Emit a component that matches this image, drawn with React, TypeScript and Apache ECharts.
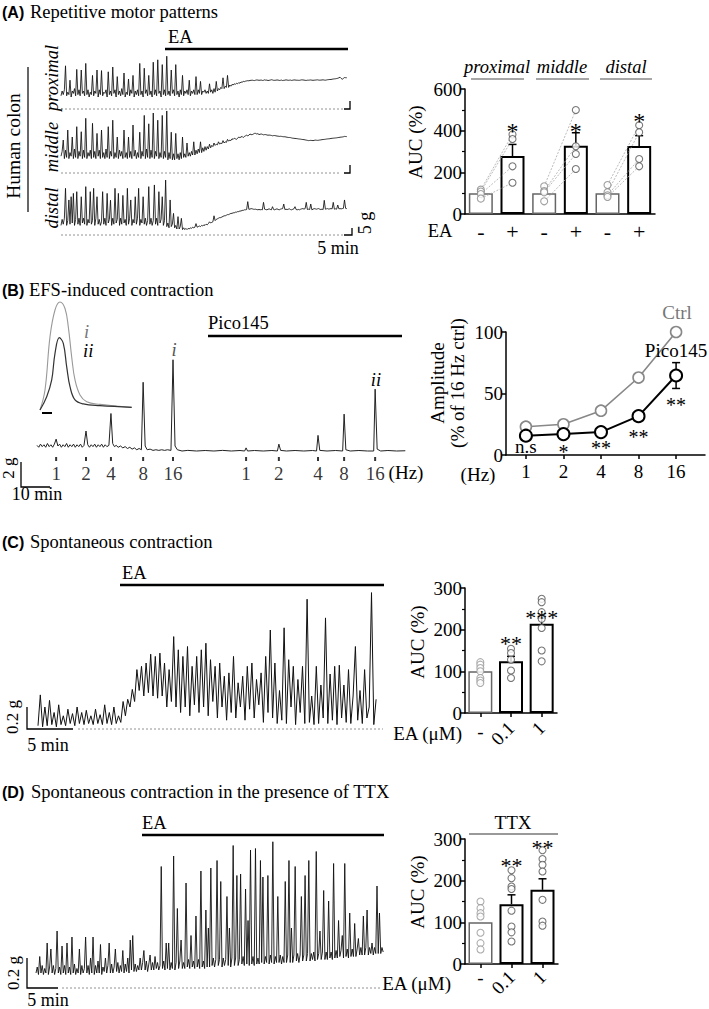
import React, { useEffect, useRef } from "react";
import * as echarts from "echarts";

const SERIF = "Liberation Serif";
const SANS = "Liberation Sans";

// ---------------- Panel A: force traces (g above baseline), one sample every 0.375 min
const A_DT_MIN = 0.375;
const proximalTrace = [
  11, 15, 12, 16, 36, 11, 14, 12, 24, 10, 15, 13, 17, 11, 33, 12, 16, 11, 32.5, 13,
  15, 11, 38, 12, 16, 10, 14, 12, 28, 11, 15, 13, 32.5, 10, 16, 12, 32, 11, 14, 13,
  16, 10, 31, 12, 15, 11, 35, 13, 16, 10, 27, 12, 15, 11, 17, 12, 30, 10, 14, 12,
  25, 11, 16, 13, 28, 10, 15, 12, 16, 11, 38, 12, 15, 10, 34, 13, 16, 11, 28, 12,
  15, 10, 39, 12, 16, 11, 41, 13, 15, 10, 37, 12, 16, 11, 44, 12, 15, 11, 32.5, 13,
  16, 11, 37, 12, 15, 10, 16, 12, 28, 11, 15, 13, 16, 12, 24, 11, 15, 13, 16, 12,
  27, 12, 16, 13, 23, 12, 15, 14, 16, 13, 15, 13, 21, 14, 16, 13, 17, 14, 23, 15,
  17, 16, 18, 17, 26, 17, 19, 18, 28, 18, 20, 19, 20.5, 20, 21, 20.5, 21.5, 21, 22, 21.5,
  22.5, 22.3, 23, 22.8, 23.2, 23.4, 23.6, 23.5, 23.8, 23.9, 24, 23.8, 23.7, 24, 24.2, 24.1, 23.9, 24, 24.1, 23.8,
  23.9, 24.3, 24, 24.1, 23.7, 23.9, 24.1, 24.4, 24.2, 23.9, 23.9, 24, 24.2, 24.1, 23.8, 23.9, 24.1, 23.7, 23.9, 24,
  24.3, 24.1, 23.9, 24, 24.1, 23.8, 24, 24.2, 24.2, 24, 24, 23.9, 23.9, 24.1, 24.3, 24.2, 24.1, 23.9, 23.8, 24,
  24, 24.1, 24.2, 24, 23.9, 24, 24.1, 24.2, 24.3, 24.1, 24, 24.1, 24.2, 24.3, 24.1, 24, 24.2, 24.4, 24.5, 24.6,
  24.6, 24.8, 25, 25.1, 25.2, 25.4, 25.6, 26, 26.5, 25.5, 24.8, 25.5, 26.2, 26.1, 26,
];
const middleTrace = [
  14, 18, 27.5, 12, 19, 13, 35.8, 12, 17, 14, 30, 12, 20, 13, 38.6, 12, 18, 14, 34.4, 12,
  19, 13, 45.6, 12, 17, 14, 19, 12, 41.4, 13, 18, 12, 33, 14, 19, 12, 35.8, 13, 17, 12,
  20, 13, 38.6, 12, 18, 14, 44, 12, 17, 13, 30, 12, 19, 14, 18, 12, 35.8, 13, 17, 12,
  30, 13, 18, 12, 40, 14, 19, 12, 17, 13, 34, 12, 18, 14, 48, 12, 20, 13, 41, 12,
  19, 13, 50, 12, 18, 14, 44, 12, 17, 13, 48, 12, 18, 13, 51.7, 11, 17, 12, 34, 11,
  16, 11, 33, 12, 16, 11, 17, 12, 30, 13, 16, 13, 25, 14, 17, 14, 18, 15, 26, 15,
  19, 16, 20, 17, 26, 17, 21, 18, 22, 19, 22, 20, 24, 21, 23, 22, 25, 23, 24, 23.5,
  26, 24, 25, 24.5, 27, 25, 26, 25.5, 28, 26.5, 27.5, 27, 28.5, 28, 29, 28.5, 28, 29, 30, 29.5,
  30, 30.5, 29.5, 30.5, 31, 31.5, 31, 31.5, 32.5, 32, 32, 32.5, 33, 33, 32.5, 32.8, 32, 32.3, 32.5, 32.2,
  31.8, 32, 32, 31.7, 31.5, 31.6, 31.5, 31.3, 31, 31.2, 31.2, 31, 30.8, 30.7, 30.5, 30.6, 30.5, 30.3, 30.2, 30.2,
  30, 29.8, 29.6, 29.6, 29.5, 29.2, 29, 28.9, 28.8, 28.7, 28.6, 28.4, 28.3, 28.2, 28, 27.9, 27.8, 27.6, 27.4, 27.2,
  27, 27.1, 27.2, 27.1, 27, 27.2, 27.4, 27.3, 27.2, 27.3, 27.5, 27.6, 27.8, 27.9, 28, 28.1, 28.3, 28.4, 28.5, 28.6,
  28.8, 28.9, 29, 29.1, 29.2, 29.3, 29.5, 29.6, 29.8, 29.9, 30, 30.2, 30.5, 30.4, 30.3,
];
const distalTrace = [
  8, 13, 9, 14, 38.9, 8, 12, 29.2, 9, 31.9, 10, 34.7, 8, 13, 36.1, 9, 14, 8, 31.9, 10,
  14, 9, 40.3, 8, 13, 10, 36.1, 9, 12, 38.9, 8, 14, 31.9, 9, 13, 8, 11, 36.1, 9, 14,
  8, 34.7, 10, 13, 29, 8, 14, 9, 38.9, 10, 13, 34.7, 8, 14, 9, 33, 10, 13, 8, 38.9,
  9, 14, 29.2, 8, 13, 10, 31.9, 9, 14, 38.9, 8, 13, 10, 31.9, 9, 14, 8, 12, 40.3, 9,
  14, 8, 12, 41.7, 9, 14, 8, 36.1, 10, 13, 31.9, 8, 12, 45.8, 7, 10, 6, 29.2, 7, 9,
  18, 6, 8, 5, 15.3, 5, 7, 13.9, 4.5, 6, 4.5, 5.5, 4.5, 5.5, 5, 6, 5.5, 6.5, 6, 6.5,
  9.5, 6.5, 7, 7.5, 7, 8, 7.5, 8.5, 8, 9, 8.5, 9.5, 11, 10, 10.5, 11, 16, 12, 13, 13.5,
  14, 14.5, 14.5, 15, 15.5, 16, 16, 16.5, 17, 17, 17.5, 18, 18, 18.5, 18.5, 19, 19, 19.5, 19.5, 20,
  20, 20.5, 20.5, 21, 21, 21.2, 27.8, 21.4, 21.6, 22, 21.8, 21.5, 21.4, 21.5, 21.2, 21, 21.3, 21, 21.2, 21,
  27.2, 21.5, 21.2, 21, 21.4, 21.8, 21.3, 21, 23.6, 21.2, 21, 21.5, 21.8, 21.3, 21, 21.5, 21.8, 22, 25.8, 21.2,
  21.5, 21.2, 21.5, 21.8, 21.2, 21, 21.4, 21.8, 23.6, 21.2, 21, 21.3, 21, 21.5, 21.8, 22, 21.6, 22, 27.2, 21.2,
  21.5, 21.2, 25.8, 21, 21.5, 22, 21.8, 21.5, 21.8, 22, 21.5, 21.2, 21.6, 21.2, 28.9, 21.5, 21.8, 22, 21.6, 21.8,
  22, 21.8, 27.2, 21.5, 21.8, 21.5, 25, 21.8, 22, 21.8, 22, 22.2, 29.2, 22.2, 22,
];

// ---------------- Panel A: AUC (%)
const aCategories = ["prox-", "prox+", "mid-", "mid+", "dist-", "dist+"];
const aTickLabels = ["-", "+", "-", "+", "-", "+"];
const aSegmentLabels = ["proximal", "middle", "distal"];
const aMeans = [100, 278, 100, 328, 100, 326];
const aErrors = [0, 56, 0, 62, 0, 50];
const proxMinus = [117, 108, 96, 74];
const proxPlus = [382, 360, 229, 150];
const midMinus = [133, 110, 104, 61];
const midPlus = [499, 325, 288, 216];
const distMinus = [139, 104, 90, 82];
const distPlus = [426, 392, 264, 229];
const aSig = ["", "*", "", "*", "", "*"];
const aSigY = [0, 400, 0, 400, 0, 448];

// ---------------- Panel B: EFS trace [min, g]
const bTrace = [
  [0, 0.45], [0.6, 0.3], [1.2, 0.55], [1.8, 0.35], [2.4, 0.5], [3, 0.3], [3.6, 0.6], [4.2, 0.35], [4.8, 0.5], [5.4, 0.3],
  [6, 0.55], [6.6, 0.95], [7.2, 0.4], [7.8, 0.55], [8.4, 0.3], [9, 0.5], [9.6, 0.35], [10.2, 0.6], [10.8, 0.3], [11.4, 0.5],
  [12, 0.35], [12.6, 0.55], [13.2, 0.3], [13.8, 0.5], [14.4, 0.35], [15, 0.55], [15.6, 0.3], [16.2, 0.45], [16.9, 1.6], [17.5, 0.5],
  [18.1, 0.3], [18.7, 0.5], [19.3, 0.35], [19.9, 0.55], [20.5, 0.3], [21.1, 0.5], [21.7, 0.35], [22.3, 0.55], [22.9, 0.3], [23.5, 0.5],
  [24.1, 0.35], [24.8, 0.45], [25.5, 3.0], [26.1, 0.6], [26.7, 0.35], [27.3, 0.45], [28, 0.3], [28.8, 0.4], [29.6, 0.25], [30.4, 0.35],
  [31.2, 0.2], [32, 0.3], [32.8, 0.15], [33.6, 0.25], [34.4, 0.1], [35.2, 0.2], [36, 0.1], [36.6, 5.5], [37.3, 0.4], [38, 0.1],
  [39, 0.15], [40, 0.05], [41, 0.1], [42, 0.05], [43, 0.1], [44, 0.05], [45, 0.1], [46.2, 0.05], [46.9, 7.3], [47.6, 0.4],
  [48.4, 0.1], [50, 0], [52, 0.05], [55, 0], [58, 0.04], [61, 0], [64, 0.05], [67, 0], [70, 0.04], [71.6, 0],
  [72.1, 0.25], [72.6, 0], [75, 0.04], [78, 0], [81, 0.04], [82.9, 0], [83.4, 0.55], [84, 0.05], [86, 0], [89, 0.04],
  [92, 0], [95, 0.04], [96.4, 0], [96.9, 1.25], [97.5, 0.05], [100, 0], [103, 0.04], [105.4, 0], [105.9, 2.95], [106.5, 0.1],
  [108, 0], [111, 0.04], [114, 0], [116.1, 0], [116.6, 4.95], [117.3, 0.15], [118.5, 0], [121, 0.04], [124, 0], [127, 0.02],
];
const bStimTimes = [6.6, 16.9, 25.5, 36.6, 46.9, 72.1, 83.4, 96.9, 105.9, 116.6];
const bStimLabels = ["1", "2", "4", "8", "16", "1", "2", "4", "8", "16"];
// inset: single 16 Hz responses (% of response i)
const insetTimeI = [0, 5, 10, 15, 20, 25, 28.3, 31.7, 35, 40, 46.7, 60, 76.7, 91.7];
const insetRespI = [0, 18.5, 67.9, 92.6, 100, 94, 77, 49, 27.8, 13.9, 7.7, 5.2, 3.7, 2.5];
const insetTimeII = [0, 6.7, 11.7, 15, 19.3, 23.3, 26.7, 30, 35, 43.3, 60, 91.7];
const insetRespII = [0, 12.3, 27.8, 52.5, 67, 61.7, 40, 21.6, 9.3, 5.6, 4, 2.5];

// ---------------- Panel B: amplitude vs frequency
const hzLabels = ["1", "2", "4", "8", "16"];
const ctrlAmp = [23, 25, 36, 63, 100];
const picoAmp = [15.7, 17, 18.6, 31.6, 64.6];
const picoErr = [0, 0, 0, 0, 10.5];
const bSig = ["n.s", "*", "**", "**", "**"];
const bSigY = [7.3, 2.6, 5.7, 14.6, 40.7];

// ---------------- Panel C: spontaneous trace (g), one sample every 0.25 min
const C_DT_MIN = 0.25;
const cTrace = [
  0.03, 0.31, 0.02, 0.2, 0.03, 0.26, 0.04, 0.15, 0.02, 0.22, 0.04, 0.12, 0.03, 0.18, 0.05, 0.14, 0.03, 0.2, 0.05, 0.15,
  0.04, 0.17, 0.05, 0.12, 0.04, 0.18, 0.05, 0.13, 0.04, 0.22, 0.05, 0.15, 0.04, 0.2, 0.05, 0.12, 0.06, 0.25, 0.12, 0.27,
  0.2, 0.36, 0.25, 0.54, 0.35, 0.57, 0.3, 0.6, 0.33, 0.68, 0.3, 0.66, 0.28, 0.69, 0.3, 0.6, 0.2, 0.54, 0.25, 0.84,
  0.2, 0.72, 0.15, 0.66, 0.2, 0.75, 0.12, 0.57, 0.22, 0.66, 0.15, 0.72, 0.2, 0.78, 0.12, 0.63, 0.25, 0.57, 0.1, 0.6,
  0.2, 0.48, 0.08, 0.51, 0.15, 0.66, 0.1, 0.42, 0.2, 0.48, 0.08, 0.57, 0.18, 0.6, 0.1, 0.45, 0.22, 0.51, 0.06, 0.66,
  0.15, 0.9, 0.1, 0.6, 0.05, 0.35, 0.08, 0.92, 0.05, 0.63, 0.2, 0.57, 0.04, 0.45, 0.15, 0.57, 0.05, 1.18, 0.06, 0.3,
  0.04, 0.57, 0.05, 0.4, 0.1, 1.01, 0.05, 0.5, 0.08, 0.57, 0.04, 0.58, 0.1, 0.4, 0.06, 0.54, 0.05, 0.3, 0.75, 0.08,
  0.35, 0.05, 0.54, 0.1, 0.2, 1.24, 0.04, 0.27,
];
const concLabels = ["-", "0.1", "1"];
const concCategories = ["c0", "c01", "c1"];
const cMeans = [100, 124, 214];
const cErrors = [0, 12, 14];
const cPoints0 = [122, 116, 108, 100, 84, 78, 72];
const cPoints1 = [154, 144, 128, 102, 84];
const cPoints2 = [274, 266, 242, 226, 204, 150, 124];
const cSig = ["", "**", "***"];
const cSigY = [0, 166, 229];

// ---------------- Panel D: spontaneous trace with TTX (g), one sample every 0.2 min
const D_DT_MIN = 0.2;
const dTrace = [
  0.1, 0.14, 0.09, 0.21, 0.1, 0.15, 0.09, 0.13, 0.1, 0.3, 0.09, 0.14, 0.26, 0.1, 0.15, 0.09, 0.13, 0.38, 0.1, 0.14,
  0.09, 0.28, 0.1, 0.15, 0.09, 0.3, 0.1, 0.14, 0.09, 0.34, 0.1, 0.16, 0.09, 0.13, 0.1, 0.26, 0.09, 0.15, 0.1, 0.13,
  0.34, 0.1, 0.15, 0.09, 0.2, 0.1, 0.34, 0.09, 0.15, 0.1, 0.18, 0.1, 0.29, 0.09, 0.14, 0.11, 0.2, 0.1, 0.15, 0.3,
  0.1, 0.16, 0.1, 0.14, 0.26, 0.11, 0.17, 0.1, 0.15, 0.11, 0.25, 0.1, 0.16, 0.11, 0.2, 0.1, 0.32, 0.12, 0.35, 0.11,
  0.16, 0.11, 0.15, 0.12, 0.2, 0.12, 0.17, 0.25, 0.12, 0.18, 0.11, 0.16, 0.22, 0.12, 0.17, 0.12, 0.21, 0.13, 0.17, 0.12,
  0.15, 0.81, 0.13, 0.18, 0.12, 0.3, 0.13, 0.3, 0.12, 0.17, 0.13, 0.88, 0.12, 0.17, 0.53, 0.13, 0.18, 0.32, 0.13, 0.17,
  0.13, 0.7, 0.14, 0.19, 0.13, 0.35, 0.14, 0.18, 0.13, 0.48, 0.14, 0.19, 0.13, 0.78, 0.14, 0.18, 0.13, 0.52, 0.14, 0.4,
  0.14, 0.8, 0.15, 0.2, 0.14, 0.19, 0.85, 0.15, 0.19, 0.71, 0.14, 0.2, 0.15, 0.19, 0.61, 0.15, 0.4, 0.14, 0.2, 0.95,
  0.15, 0.2, 0.75, 0.15, 0.19, 0.76, 0.16, 0.21, 0.15, 0.66, 0.16, 0.45, 0.15, 0.92, 0.16, 0.21, 0.15, 0.93, 0.16, 0.2,
  0.16, 0.85, 0.17, 0.74, 0.16, 0.21, 0.17, 0.75, 0.16, 0.22, 0.17, 0.975, 0.16, 0.21, 0.17, 0.61, 0.17, 0.22, 0.16, 0.21,
  0.17, 0.71, 0.17, 0.22, 0.85, 0.17, 0.4, 0.17, 0.22, 0.81, 0.18, 0.23, 0.17, 0.22, 0.61, 0.18, 0.22, 0.75, 0.18, 0.23,
  0.85, 0.18, 0.23, 0.19, 0.24, 0.18, 0.91, 0.19, 0.23, 0.38, 0.19, 0.24, 0.65, 0.19, 0.24, 0.19, 0.58, 0.2, 0.24, 0.19,
  0.83, 0.2, 0.25, 0.2, 0.45, 0.21, 0.25, 0.35, 0.2, 0.83, 0.21, 0.26, 0.2, 0.5, 0.21, 0.26, 0.21, 0.43, 0.21, 0.26,
  0.33, 0.22, 0.27, 0.22, 0.48, 0.22, 0.27, 0.52, 0.22, 0.27, 0.23, 0.3, 0.22, 0.27, 0.23, 0.68, 0.23, 0.5, 0.23, 0.27,
  0.24,
];
const dMeans = [100, 143.6, 178];
const dErrors = [0, 22.4, 26.5];
const dPoints0 = [150, 134, 122, 114, 75, 50, 35];
const dPoints1 = [225, 206, 186, 180, 128, 90, 76, 54];
const dPoints2 = [273, 252, 238, 222, 154, 102, 92];
const dSig = ["", "**", "**"];
const dSigY = [0, 236, 279];

// ---------------- helpers
const traceLine = (values: number[], dt: number, gi: number, width = 0.9) => ({
  type: "line",
  xAxisIndex: gi,
  yAxisIndex: gi,
  data: values.map((v, i) => [i * dt, v]),
  symbol: "none",
  showSymbol: false,
  clip: false,
  silent: true,
  lineStyle: { color: "#111", width },
  z: 2,
});

const hiddenX = (gi: number, min: number, max: number) => ({ gridIndex: gi, type: "value", min, max, show: false });
const hiddenY = (gi: number, min: number, max: number) => ({ gridIndex: gi, type: "value", min, max, show: false });

const blackLine = { color: "#000", width: 1.5 };

const barY = (gi: number, max: number, interval: number, minor: boolean) => ({
  gridIndex: gi,
  type: "value",
  min: 0,
  max,
  interval,
  axisLine: { show: true, lineStyle: blackLine },
  axisTick: { show: true, length: 5, lineStyle: blackLine },
  minorTick: { show: minor, splitNumber: 2, length: 3, lineStyle: { color: "#000", width: 1.2 } },
  splitLine: { show: false },
  axisLabel: { color: "#000", fontSize: 19, fontFamily: SERIF, margin: 3 },
});

const errUp = (_p: any, api: any) => {
  const x = api.value(0);
  const m = api.value(1);
  const e = api.value(2);
  const a = api.coord([x, m]);
  const b = api.coord([x, m + e]);
  const style = { stroke: "#000", lineWidth: 1.5 };
  return {
    type: "group",
    children: [
      { type: "line", shape: { x1: a[0], y1: a[1], x2: b[0], y2: b[1] }, style },
      { type: "line", shape: { x1: b[0] - 4, y1: b[1], x2: b[0] + 4, y2: b[1] }, style },
    ],
  };
};

const errBoth = (_p: any, api: any) => {
  const x = api.value(0);
  const m = api.value(1);
  const e = api.value(2);
  const a = api.coord([x, m - e]);
  const b = api.coord([x, m + e]);
  const style = { stroke: "#000", lineWidth: 1.5 };
  return {
    type: "group",
    children: [
      { type: "line", shape: { x1: a[0], y1: a[1], x2: b[0], y2: b[1] }, style },
      { type: "line", shape: { x1: b[0] - 4, y1: b[1], x2: b[0] + 4, y2: b[1] }, style },
      { type: "line", shape: { x1: a[0] - 4, y1: a[1], x2: a[0] + 4, y2: a[1] }, style },
    ],
  };
};

const barSeries = (gi: number, means: number[], firstGray: (i: number) => boolean) => ({
  type: "bar",
  xAxisIndex: gi,
  yAxisIndex: gi,
  barWidth: 24,
  silent: true,
  data: means.map((v, i) => ({
    value: v,
    itemStyle: {
      color: "#fff",
      borderColor: firstGray(i) ? "#666" : "#000",
      borderWidth: firstGray(i) ? 1.5 : 2,
    },
  })),
  z: 2,
});

const errSeries = (gi: number, means: number[], errs: number[], render: any) => ({
  type: "custom",
  xAxisIndex: gi,
  yAxisIndex: gi,
  silent: true,
  renderItem: render,
  data: means.map((m, i) => [i, m, errs[i]]).filter((d) => d[2] > 0),
  encode: { x: 0, y: 1 },
  z: 3,
});

const pointSeries = (gi: number, cat: number, values: number[], color: string) => ({
  type: "scatter",
  xAxisIndex: gi,
  yAxisIndex: gi,
  silent: true,
  symbol: "circle",
  symbolSize: 7,
  data: values.map((v) => [cat, v]),
  itemStyle: { color: "#fff", borderColor: color, borderWidth: 1.1 },
  z: 5,
});

// significance marks drawn as text at data coordinates
const textMarks = (gi: number, labels: string[], ys: number[], size: number, xs?: number[]) => {
  const items = labels
    .map((s, i) => ({ s, x: xs ? xs[i] : i, y: ys[i] }))
    .filter((d) => d.s !== "");
  return {
    type: "custom",
    xAxisIndex: gi,
    yAxisIndex: gi,
    silent: true,
    z: 6,
    data: items.map((d) => [d.x, d.y]),
    encode: { x: 0, y: 1 },
    renderItem: (params: any, api: any) => {
      const p = api.coord([api.value(0), api.value(1)]);
      const s = items[params.dataIndex].s;
      return {
        type: "text",
        x: p[0],
        y: p[1],
        style: {
          text: s,
          fill: "#000",
          fontSize: s === "n.s" ? 19 : size,
          fontFamily: SERIF,
          textAlign: "center",
          textVerticalAlign: "middle",
          align: "center",
          verticalAlign: "middle",
        },
      };
    },
  };
};

const catX = (gi: number, cats: string[], labelFn: (i: number) => string, opts: any) => ({
  gridIndex: gi,
  type: "category",
  data: cats,
  position: "bottom",
  axisLine: { show: opts.line !== false, lineStyle: blackLine },
  axisTick: { show: !!opts.ticks, alignWithLabel: true, length: 4, lineStyle: blackLine },
  axisLabel: {
    interval: 0,
    rotate: opts.rotate || 0,
    margin: opts.margin,
    color: "#000",
    fontSize: opts.size || 19,
    fontFamily: SERIF,
    formatter: (_v: string, i: number) => labelFn(i),
  },
  splitLine: { show: false },
});

function buildGraphics() {
  const G: any[] = [];
  const txt = (text: string, x: number, y: number, o: any = {}) =>
    G.push({
      type: "text",
      x,
      y,
      rotation: o.rot || 0,
      z: 100,
      silent: true,
      style: {
        text,
        fill: o.color || "#000",
        fontSize: o.size || 18,
        fontFamily: o.family || SERIF,
        fontWeight: o.weight || "normal",
        fontStyle: o.italic ? "italic" : "normal",
        textAlign: o.align || "left",
        textVerticalAlign: "middle",
      },
    });
  const seg = (x1: number, y1: number, x2: number, y2: number, o: any = {}) =>
    G.push({
      type: "line",
      z: 100,
      silent: true,
      shape: { x1, y1, x2, y2 },
      style: { stroke: o.color || "#000", lineWidth: o.w || 1.5, lineDash: o.dash },
    });
  const poly = (pts: number[][], w = 1.3) =>
    G.push({ type: "polyline", z: 100, silent: true, shape: { points: pts }, style: { stroke: "#000", lineWidth: w, fill: null } });
  const R = Math.PI / 2;
  const dash = { color: "#777", w: 0.8, dash: [2, 2] };
  const T = 18.5;

  // titles
  txt("(A)", 2, 12, { family: SANS, weight: "bold", size: 16 });
  txt("Repetitive motor patterns", 30, 12, { size: T });
  txt("(B)", 2, 290, { family: SANS, weight: "bold", size: 16 });
  txt("EFS-induced contraction", 29, 290, { size: T });
  txt("(C)", 2, 542, { family: SANS, weight: "bold", size: 16 });
  txt("Spontaneous contraction", 30, 542, { size: T });
  txt("(D)", 2, 792, { family: SANS, weight: "bold", size: 16 });
  txt("Spontaneous contraction in the presence of TTX", 31, 792, { size: T });

  // Panel A traces
  txt("EA", 168, 37, { size: T });
  seg(165, 49, 348, 49, { w: 2.5 });
  txt("Human colon", 13, 146, { size: 19.5, rot: R, align: "center" });
  seg(28, 67, 28, 212, { w: 1.2 });
  txt(aSegmentLabels[0], 52, 78, { size: T, italic: true, rot: R, align: "center" });
  txt(aSegmentLabels[1], 52, 147, { size: T, italic: true, rot: R, align: "center" });
  txt(aSegmentLabels[2], 52, 208, { size: T, italic: true, rot: R, align: "center" });
  seg(61, 109, 343, 109, dash);
  seg(61, 173, 340, 173, dash);
  seg(61, 235, 343, 235, dash);
  poly([[344, 109], [350, 109], [350, 101]]);
  poly([[344, 173], [350, 173], [350, 165]]);
  poly([[344, 235], [352, 235], [352, 228]]);
  txt("5 g", 365, 223, { rot: R, align: "center" });
  txt("5 min", 338, 248, { align: "center" });

  // Panel A bars
  txt(aSegmentLabels[0], 497, 67, { size: T, italic: true, align: "center" });
  seg(471, 79, 524, 79, { color: "#888" });
  txt(aSegmentLabels[1], 562, 67, { size: T, italic: true, align: "center" });
  seg(536, 79, 589, 79, { color: "#888" });
  txt(aSegmentLabels[2], 626, 67, { size: T, italic: true, align: "center" });
  seg(600, 79, 652, 79, { color: "#888" });
  txt("AUC (%)", 415, 142, { size: 19, rot: R, align: "center" });
  txt("EA", 440, 231, { size: T, align: "center" });

  // Panel B trace
  txt("Pico145", 208, 323, { size: T });
  seg(208, 336, 402, 336, { w: 2.5 });
  seg(42, 413, 52, 413, { w: 2 });
  txt("i", 84, 332, { italic: true, color: "#777", size: T });
  txt("ii", 83, 351, { italic: true, size: T });
  txt("i", 174, 350, { italic: true, color: "#555", size: T, align: "center" });
  txt("ii", 376, 380, { italic: true, size: T, align: "center" });
  txt("(Hz)", 406, 472, { size: 19, align: "center" });
  poly([[21, 462], [21, 487], [50, 487]]);
  txt("2 g", 8, 468, { rot: R, align: "center", size: 17 });
  txt("10 min", 37, 494, { align: "center" });

  // Panel B line chart
  txt("Amplitude", 437, 383, { size: 19, rot: R, align: "center" });
  txt("(% of 16 Hz ctrl)", 457, 383, { size: 19, rot: R, align: "center" });
  txt("(Hz)", 478, 474, { size: 19, align: "center" });
  txt("Ctrl", 677, 312, { size: 19, color: "#777", align: "center" });
  txt("Pico145", 676, 350, { size: 19, align: "center" });

  // Panel C
  txt("EA", 122, 573, { size: T });
  seg(120, 585, 384, 585, { w: 2.5 });
  seg(78, 729, 383, 729, dash);
  poly([[27, 707], [27, 729], [73, 729]]);
  txt("0.2 g", 12, 717, { rot: R, align: "center", size: 17 });
  txt("5 min", 48, 745, { align: "center" });
  txt("AUC (%)", 417, 642, { size: 19, rot: R, align: "center" });
  txt("EA (μM)", 462, 733, { size: 19, align: "right" });

  // Panel D
  txt("EA", 142, 823, { size: T });
  seg(142, 835, 384, 835, { w: 2.5 });
  seg(62, 988, 380, 988, dash);
  poly([[27, 958], [27, 988], [58, 988]]);
  txt("0.2 g", 13, 973, { rot: R, align: "center", size: 17 });
  txt("5 min", 48, 1000, { align: "center" });
  txt("AUC (%)", 417, 892, { size: 19, rot: R, align: "center" });
  txt("TTX", 513, 822, { size: 19, align: "center" });
  seg(469, 834, 558, 834, { color: "#777", w: 1.5 });
  txt("EA (μM)", 451, 983, { size: 19, align: "right" });
  return G;
}

function buildOption() {
  const grid = [
    { left: 61, top: 49, width: 285.75, height: 60 }, // 0 A proximal
    { left: 61, top: 107, width: 285.75, height: 66 }, // 1 A middle
    { left: 61, top: 175, width: 285.75, height: 60 }, // 2 A distal
    { left: 465, top: 89, width: 190, height: 125 }, // 3 A bars
    { left: 37, top: 351, width: 368.3, height: 125 }, // 4 B trace
    { left: 40, top: 302, width: 92, height: 108 }, // 5 B inset
    { left: 506, top: 332, width: 199, height: 123 }, // 6 B line
    { left: 38, top: 586, width: 338.1, height: 143 }, // 7 C trace
    { left: 465, top: 588, width: 92, height: 125 }, // 8 C bars
    { left: 36, top: 838, width: 347.2, height: 150 }, // 9 D trace
    { left: 465, top: 839, width: 93, height: 125 }, // 10 D bars
  ];

  const aMax = (proximalTrace.length - 1) * A_DT_MIN;
  const hzPos = hzLabels.map((_, i) => i + 1);

  const xAxis: any[] = [
    hiddenX(0, 0, aMax),
    hiddenX(1, 0, aMax),
    hiddenX(2, 0, aMax),
    catX(3, aCategories, (i) => aTickLabels[i], { margin: 6, size: 22 }),
    hiddenX(4, 0, 127),
    hiddenX(5, 0, 92),
    {
      gridIndex: 6,
      type: "value",
      min: 0.47,
      max: 5.77,
      axisLine: { show: true, lineStyle: blackLine },
      axisTick: { show: true, customValues: hzPos, length: 4, lineStyle: blackLine },
      axisLabel: {
        customValues: hzPos,
        formatter: (v: number) => hzLabels[Math.round(v) - 1] || "",
        color: "#000",
        fontSize: 19,
        fontFamily: SERIF,
        margin: 7,
      },
      splitLine: { show: false },
    },
    hiddenX(7, 0, (cTrace.length - 1) * C_DT_MIN),
    catX(8, concCategories, (i) => (i === 0 ? concLabels[0] : ""), { ticks: true, margin: 9 }),
    hiddenX(9, 0, (dTrace.length - 1) * D_DT_MIN),
    catX(10, concCategories, (i) => (i === 0 ? concLabels[0] : ""), { ticks: true, margin: 4 }),
    catX(8, concCategories, (i) => (i === 0 ? "" : concLabels[i]), { line: false, rotate: 45, margin: 12 }),
    catX(10, concCategories, (i) => (i === 0 ? "" : concLabels[i]), { line: false, rotate: 45, margin: 10 }),
  ];

  const yAxis: any[] = [
    hiddenY(0, 0, 50),
    hiddenY(1, 0, 55),
    hiddenY(2, 0, 50),
    barY(3, 600, 200, true),
    hiddenY(4, -2, 8),
    hiddenY(5, 0, 100),
    barY(6, 100, 50, false),
    hiddenY(7, 0, 1.3),
    barY(8, 300, 100, true),
    hiddenY(9, 0, 1),
    barY(10, 300, 100, true),
  ];

  const series: any[] = [];

  // A traces
  series.push(traceLine(proximalTrace, A_DT_MIN, 0, 0.85));
  series.push(traceLine(middleTrace, A_DT_MIN, 1, 0.85));
  series.push(traceLine(distalTrace, A_DT_MIN, 2, 0.85));

  // A bars
  series.push(barSeries(3, aMeans, (i) => i % 2 === 0));
  series.push(errSeries(3, aMeans, aErrors, errUp));
  const pairs: [number[], number[], number][] = [
    [proxMinus, proxPlus, 0],
    [midMinus, midPlus, 2],
    [distMinus, distPlus, 4],
  ];
  pairs.forEach(([minus, plus, c]) => {
    minus.forEach((v, k) => {
      series.push({
        type: "line",
        xAxisIndex: 3,
        yAxisIndex: 3,
        silent: true,
        symbol: "none",
        data: [
          [c, v],
          [c + 1, plus[k]],
        ],
        lineStyle: { color: "#aaa", width: 0.8, type: [2, 1.5] },
        z: 4,
      });
    });
    series.push(pointSeries(3, c, minus, "#888"));
    series.push(pointSeries(3, c + 1, plus, "#555"));
  });
  series.push(textMarks(3, aSig, aSigY, 24));

  // B trace
  series.push({
    type: "line",
    xAxisIndex: 4,
    yAxisIndex: 4,
    data: bTrace,
    symbol: "none",
    clip: false,
    silent: true,
    lineStyle: { color: "#222", width: 1 },
  });
  series.push({
    type: "scatter",
    xAxisIndex: 4,
    yAxisIndex: 4,
    silent: true,
    symbol: "rect",
    symbolSize: [2, 4],
    itemStyle: { color: "#000" },
    data: bStimTimes.map((t, i) => ({ name: bStimLabels[i], value: [t, -0.64] })),
    label: { show: true, position: "bottom", distance: 3, formatter: "{b}", color: "#000", fontSize: 19, fontFamily: SERIF },
  });
  // B inset
  series.push({
    type: "line",
    xAxisIndex: 5,
    yAxisIndex: 5,
    data: insetTimeI.map((t, i) => [t, insetRespI[i]]),
    symbol: "none",
    smooth: 0.4,
    clip: false,
    silent: true,
    lineStyle: { color: "#999", width: 1.1 },
  });
  series.push({
    type: "line",
    xAxisIndex: 5,
    yAxisIndex: 5,
    data: insetTimeII.map((t, i) => [t, insetRespII[i]]),
    symbol: "none",
    smooth: 0.4,
    clip: false,
    silent: true,
    lineStyle: { color: "#333", width: 1.2 },
  });

  // B line chart
  series.push({
    type: "line",
    xAxisIndex: 6,
    yAxisIndex: 6,
    data: ctrlAmp.map((v, i) => [hzPos[i], v]),
    symbol: "circle",
    symbolSize: 11,
    silent: true,
    itemStyle: { color: "#fff", borderColor: "#888", borderWidth: 1.6 },
    lineStyle: { color: "#888", width: 1.6 },
    z: 3,
  });
  series.push({
    type: "custom",
    xAxisIndex: 6,
    yAxisIndex: 6,
    silent: true,
    renderItem: errBoth,
    data: picoAmp.map((m, i) => [hzPos[i], m, picoErr[i]]).filter((d) => d[2] > 0),
    encode: { x: 0, y: 1 },
    z: 3,
  });
  series.push({
    type: "line",
    xAxisIndex: 6,
    yAxisIndex: 6,
    data: picoAmp.map((v, i) => [hzPos[i], v]),
    symbol: "circle",
    symbolSize: 12,
    silent: true,
    itemStyle: { color: "#fff", borderColor: "#000", borderWidth: 2 },
    lineStyle: { color: "#000", width: 2 },
    z: 4,
  });
  series.push(textMarks(6, bSig, bSigY, 20, hzPos));

  // C
  series.push(traceLine(cTrace, C_DT_MIN, 7, 1));
  series.push(barSeries(8, cMeans, (i) => i === 0));
  series.push(errSeries(8, cMeans, cErrors, errUp));
  series.push(pointSeries(8, 0, cPoints0, "#999"));
  series.push(pointSeries(8, 1, cPoints1, "#555"));
  series.push(pointSeries(8, 2, cPoints2, "#555"));
  series.push(textMarks(8, cSig, cSigY, 22));

  // D
  series.push(traceLine(dTrace, D_DT_MIN, 9, 0.9));
  series.push(barSeries(10, dMeans, (i) => i === 0));
  series.push(errSeries(10, dMeans, dErrors, errUp));
  series.push(pointSeries(10, 0, dPoints0, "#999"));
  series.push(pointSeries(10, 1, dPoints1, "#555"));
  series.push(pointSeries(10, 2, dPoints2, "#555"));
  series.push(textMarks(10, dSig, dSigY, 22));

  return {
    animation: false,
    backgroundColor: "#fff",
    textStyle: { fontFamily: SERIF },
    grid,
    xAxis,
    yAxis,
    series,
    graphic: buildGraphics(),
  };
}

export default function App() {
  const ref = useRef<HTMLDivElement>(null);
  useEffect(() => {
    document.body.style.margin = "0";
    const chart = echarts.init(ref.current as HTMLDivElement, null, { renderer: "svg", width: 709, height: 1009 });
    chart.setOption(buildOption() as any);
    return () => chart.dispose();
  }, []);
  return <div ref={ref} style={{ width: 709, height: 1009 }} />;
}
